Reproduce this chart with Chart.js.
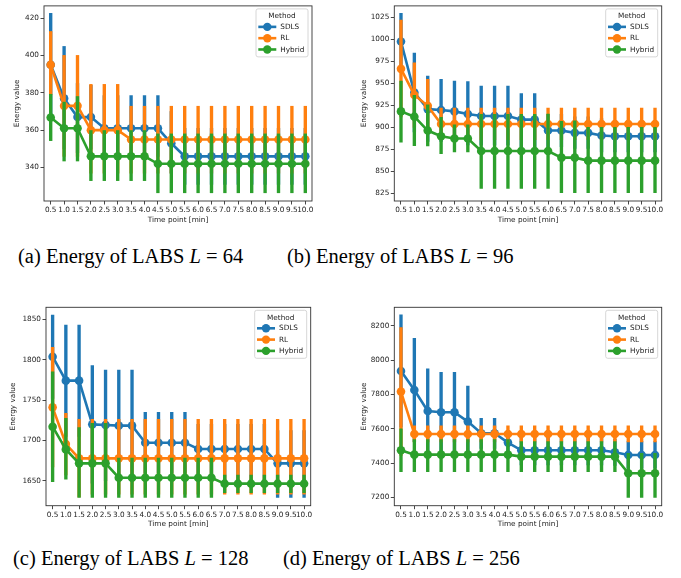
<!DOCTYPE html>
<html lang="en">
<head>
<meta charset="UTF-8">
<title>Energy of LABS</title>
<script src="https://cdn.jsdelivr.net/npm/chart.js@4"></script>
<style>
    body { margin: 0; background: #fff; }
    #page { position: relative; width: 681px; height: 578px; overflow: hidden; background: #fff; }
    .panel { position: absolute; }
    .caption {
        position: absolute;
        font-family: "Liberation Serif", serif;
        font-size: 20.5px;
        line-height: 1;
        white-space: nowrap;
        color: #000;
    }
</style>
</head>
<body>
<div id="page">
    <canvas id="chartA" class="panel"></canvas>
    <canvas id="chartB" class="panel"></canvas>
    <canvas id="chartC" class="panel"></canvas>
    <canvas id="chartD" class="panel"></canvas>
    <div class="caption" style="left:18px; top:246px;">(a) Energy of LABS <i>L</i> = 64</div>
    <div class="caption" style="left:287px; top:246px;">(b) Energy of LABS <i>L</i> = 96</div>
    <div class="caption" style="left:13px; top:548px;">(c) Energy of LABS <i>L</i> = 128</div>
    <div class="caption" style="left:283px; top:548px;">(d) Energy of LABS <i>L</i> = 256</div>
</div>
<script>
    // categories
    const timeLabels = ['0.5','1.0','1.5','2.0','2.5','3.0','3.5','4.0','4.5','5.0',
                        '5.5','6.0','6.5','7.0','7.5','8.0','8.5','9.0','9.5','10.0'];
    const methods = ['SDLS', 'RL', 'Hybrid'];
    const colors = ['#1f77b4', '#ff7f0e', '#2ca02c'];

    // (a) L = 64
    const aTicks = [340, 360, 380, 400, 420];
    const aSdlsMean = [395,377,367,367,361,361,361,361,361,353,346,346,346,346,346,346,346,346,346,346];
    const aSdlsLo   = [368,350,348,350,346,346,346,346,346,337,331,331,331,331,331,331,331,331,331,331];
    const aSdlsHi   = [422.5,404.8,385,384,378.5,378.5,378.5,378.5,378.5,370,361,361,361,361,361,361,361,361,361,361];
    const aRlMean = [395,373,373,360,360,360,355,355,355,355,355,355,355,355,355,355,355,355,355,355];
    const aRlLo   = [379,346,346,337,337,337,337,337,337,337,337,337,337,337,337,337,337,337,337,337];
    const aRlHi   = [412.8,400,400,384.5,384.5,384.5,372.8,372.8,372.8,372.8,372.8,372.8,372.8,372.8,372.8,372.8,372.8,372.8,372.8,372.8];
    const aHybMean = [366.8,361,361,346,346,346,346,346,342,342,342,342,342,342,342,342,342,342,342,342];
    const aHybLo   = [354.4,343.5,343.5,333,333,333,333,333,326.5,326.5,326.5,326.5,326.5,326.5,326.5,326.5,326.5,326.5,326.5,326.5];
    const aHybHi   = [379.2,375,378,359.8,359.8,359.8,359.8,359.8,358,358,358,358,358,358,358,358,358,358,358,358];

    // (b) L = 96
    const bTicks = [825, 850, 875, 900, 925, 950, 975, 1000, 1025];
    const bSdlsMean = [997.7,939.6,920.8,919.7,918.2,915.2,912.9,912.9,912.9,908.8,908.8,896.4,896.4,893.8,893.8,890.8,890,890,890,890];
    const bSdlsLo   = [966,895,884,884,884,880,880,880,880,878,878,878,878,876,876,872,872,872,872,872];
    const bSdlsHi   = [1029.7,984.6,958.3,954.6,952.7,952,947,947,947,938.4,938.4,915,915,912,912,910,908,908,908,908];
    const bRlMean = [966.6,936.9,924.5,903.9,903.9,903.9,903.9,903.9,903.9,903.9,903.9,903.9,903.9,903.9,903.9,903.9,903.9,903.9,903.9,903.9];
    const bRlLo   = [912,900,895,886,886,886,886,886,886,886,886,886,886,886,886,886,886,886,886,886];
    const bRlHi   = [1022,973.3,954.6,921.9,921.9,921.9,921.9,921.9,921.9,921.9,921.9,921.9,921.9,921.9,921.9,921.9,921.9,921.9,921.9,921.9];
    const bHybMean = [918.2,912.2,896.4,890,887.4,887.4,873.1,873.1,873.1,873.1,873.1,873.1,865.6,865.6,862.2,862.2,862.2,862.2,862.2,862.2];
    const bHybLo   = [883.3,879.1,878.8,870.1,872,872,830.7,830.7,830.7,830.7,830.7,830.7,825.8,825.8,825.8,825.8,825.8,825.8,825.8,825.8];
    const bHybHi   = [952.7,936.5,925.7,911.4,903,903,915,915,915,915,915,915.2,907,907.6,900,900,900,900,900,900];

    // (c) L = 128
    const cTicks = [1650, 1700, 1750, 1800, 1850];
    const cSdlsMean = [1803.7,1774,1774,1719.8,1719,1718.2,1718.2,1697.1,1697.1,1697.1,1697.1,1689.3,1689.3,1689.3,1689.3,1689.3,1689.3,1671.5,1671.5,1671.5];
    const cSdlsLo   = [1752,1705,1705,1647,1650,1650,1650,1660,1660,1660,1660,1650,1650,1650,1650,1650,1650,1629.3,1629.3,1629.3];
    const cSdlsHi   = [1855.4,1843,1843,1792.6,1787.2,1787.2,1787.2,1734.7,1734.7,1734.7,1734.7,1720,1720,1720,1720,1720,1720,1712,1712,1712];
    const cRlMean = [1740.9,1695.4,1677.7,1677.7,1677.7,1677.7,1677.7,1677.7,1677.7,1677.7,1677.7,1677.7,1677.7,1677.7,1677.7,1677.7,1677.7,1677.7,1677.7,1677.7];
    const cRlLo   = [1667,1657,1630,1633.4,1633.4,1633.4,1633.4,1633.4,1633.4,1633.4,1633.4,1633.4,1633.4,1633.4,1633.4,1633.4,1633.4,1633.4,1633.4,1633.4];
    const cRlHi   = [1815.3,1733.5,1726,1726,1726,1726,1726,1726,1726,1726,1726,1726,1726,1726,1726,1726,1726,1726,1726,1726];
    const cHybMean = [1716.9,1688.8,1671.5,1671.5,1671.5,1653.7,1653.7,1653.7,1653.7,1653.7,1653.7,1653.7,1653.7,1646.3,1646.3,1646.3,1646.3,1646.3,1646.3,1646.3];
    const cHybLo   = [1648.8,1652,1629.3,1629.3,1629.3,1629.3,1629.3,1629.3,1629.3,1629.3,1629.3,1629.3,1629.3,1635,1635,1635,1635,1635,1635,1635];
    const cHybHi   = [1785,1727.3,1715.7,1721,1721,1678,1678,1678,1678,1678,1678,1678,1678,1657,1657,1657,1657,1657,1657,1657];

    // (d) L = 256
    const dTicks = [7200, 7400, 7600, 7800, 8000, 8200];
    const dSdlsMean = [7937.7,7826.8,7704.3,7696.5,7696.5,7642,7574,7574,7519.5,7474.7,7474.7,7474.7,7474.7,7474.7,7474.7,7474.7,7463,7447.5,7447.5,7447.5];
    const dSdlsLo   = [7610,7525,7460,7460,7460,7434,7486,7486,7460,7390,7390,7390,7390,7390,7390,7390,7386,7370,7370,7370];
    const dSdlsHi   = [8264.6,8128.4,7949.4,7930,7930,7850,7661.5,7661.5,7580,7560,7560,7560,7560,7560,7560,7560,7540,7525,7525,7525];
    const dRlMean = [7817.1,7570,7570,7570,7570,7570,7570,7570,7570,7570,7570,7570,7570,7570,7570,7570,7570,7570,7570,7570];
    const dRlLo   = [7445,7523,7523,7523,7523,7523,7523,7523,7523,7523,7523,7523,7523,7523,7523,7523,7523,7523,7523,7523];
    const dRlHi   = [8190.7,7616.7,7616.7,7616.7,7616.7,7616.7,7616.7,7616.7,7616.7,7616.7,7616.7,7616.7,7616.7,7616.7,7616.7,7616.7,7616.7,7616.7,7616.7,7616.7];
    const dHybMean = [7474.7,7449.4,7449.4,7449.4,7449.4,7449.4,7449.4,7449.4,7449.4,7437.8,7437.8,7437.8,7437.8,7437.8,7437.8,7437.8,7437.8,7340.5,7340.5,7340.5];
    const dHybLo   = [7350,7350,7350,7350,7350,7350,7350,7350,7350,7350,7350,7350,7350,7350,7350,7350,7350,7200,7200,7200];
    const dHybHi   = [7600,7537,7537,7537,7537,7537,7537,7537,7537,7525,7525,7525,7525,7525,7525,7525,7525,7457,7457,7457];

    const FONT = '"DejaVu Sans", sans-serif';
    const FONT_SIZE = 7.3;
    const TEXT = '#222';

    // box around the plot area, like matplotlib spines
    const framePlugin = {
        id: 'frame',
        afterDraw(chart) {
            const {ctx, chartArea: a} = chart;
            ctx.save();
            ctx.strokeStyle = '#333';
            ctx.lineWidth = 0.9;
            ctx.strokeRect(a.left, a.top, a.right - a.left, a.bottom - a.top);
            ctx.restore();
        }
    };

    // "Method" legend box in the upper right corner
    const legendPlugin = {
        id: 'methodLegend',
        afterDatasetsDraw(chart) {
            const {ctx, chartArea: a} = chart;
            const w = 52, h = 48;
            const x = a.right - w - 4, y = a.top + 3;
            ctx.save();
            ctx.fillStyle = 'rgba(255,255,255,0.8)';
            ctx.strokeStyle = '#cccccc';
            ctx.lineWidth = 0.8;
            ctx.beginPath();
            ctx.roundRect(x, y, w, h, 2);
            ctx.fill();
            ctx.stroke();
            ctx.font = FONT_SIZE + 'px ' + FONT;
            ctx.fillStyle = TEXT;
            ctx.textAlign = 'center';
            ctx.textBaseline = 'middle';
            ctx.fillText('Method', x + w / 2, y + 7.6);
            methods.forEach((m, i) => {
                const yy = y + 18 + i * 11.3;
                ctx.strokeStyle = colors[i];
                ctx.fillStyle = colors[i];
                ctx.lineWidth = 2.6;
                ctx.beginPath();
                ctx.moveTo(x + 2.3, yy);
                ctx.lineTo(x + 20.3, yy);
                ctx.stroke();
                ctx.beginPath();
                ctx.arc(x + 11.3, yy, 4.2, 0, Math.PI * 2);
                ctx.fill();
                ctx.fillStyle = TEXT;
                ctx.textAlign = 'left';
                ctx.fillText(m, x + 24.3, yy + 0.3);
            });
            ctx.restore();
        }
    };

    function buildDatasets(series) {
        const ds = [];
        series.forEach((s, i) => {
            const base = 2 * (series.length - i);
            ds.push({
                type: 'line',
                label: methods[i],
                data: s.mean,
                borderColor: colors[i],
                backgroundColor: colors[i],
                borderWidth: 2.6,
                pointRadius: 4.3,
                pointHoverRadius: 4.3,
                pointBorderWidth: 0,
                tension: 0,
                order: base
            });
            ds.push({
                type: 'bar',
                label: methods[i] + ' CI',
                data: s.lo.map((v, k) => [v, s.hi[k]]),
                backgroundColor: colors[i],
                borderWidth: 0,
                barThickness: 2.7,
                grouped: false,
                order: base - 1
            });
        });
        return ds;
    }

    function makeChart(id, panel, series, yTicks, yMin, yMax) {
        const canvas = document.getElementById(id);
        canvas.style.left = panel.left + 'px';
        canvas.style.top = panel.top + 'px';
        canvas.width = panel.width;
        canvas.height = panel.height;
        const pl = panel.plot[0] - panel.left;
        const pt = panel.plot[1] - panel.top;
        const pr = panel.plot[2] - panel.left;
        const pb = panel.plot[3] - panel.top;
        const half = FONT_SIZE * 1.2 / 2;

        new Chart(canvas.getContext('2d'), {
            type: 'line',
            data: { labels: timeLabels, datasets: buildDatasets(series) },
            options: {
                responsive: false,
                animation: false,
                devicePixelRatio: 1,
                layout: { padding: { left: 0, top: pt, right: panel.width - pr, bottom: 0 } },
                plugins: { legend: { display: false }, tooltip: { enabled: false } },
                scales: {
                    x: {
                        type: 'category',
                        offset: true,
                        grid: { display: true, drawOnChartArea: false, offset: false, tickLength: 3.5, color: '#333', tickWidth: 0.9 },
                        border: { display: false },
                        ticks: { autoSkip: false, maxRotation: 0, minRotation: 0, padding: 1.5, color: TEXT, font: { family: FONT, size: FONT_SIZE } },
                        title: { display: true, text: 'Time point [min]', color: TEXT, font: { family: FONT, size: FONT_SIZE },
                                 padding: { top: 0, bottom: panel.height - (panel.xTitleY - panel.top) - half } },
                        afterFit: axis => { axis.height = panel.height - pb; }
                    },
                    y: {
                        type: 'linear',
                        min: yMin,
                        max: yMax,
                        grid: { display: true, drawOnChartArea: false, tickLength: 3.5, color: '#333', tickWidth: 0.9 },
                        border: { display: false },
                        ticks: { padding: 1.5, color: TEXT, font: { family: FONT, size: FONT_SIZE },
                                 callback: v => String(v) },
                        afterBuildTicks: axis => { axis.ticks = yTicks.map(v => ({ value: v })); },
                        title: { display: true, text: 'Energy value', color: TEXT, font: { family: FONT, size: FONT_SIZE },
                                 padding: { top: (panel.yTitleX - panel.left) - half, bottom: 0 } },
                        afterFit: axis => { axis.width = pl; }
                    }
                }
            },
            plugins: [framePlugin, legendPlugin]
        });
    }

    makeChart('chartA',
        { left: 0, top: 0, width: 340, height: 232, plot: [44, 4, 312, 201], yTitleX: 17, xTitleY: 220 },
        [{ mean: aSdlsMean, lo: aSdlsLo, hi: aSdlsHi },
         { mean: aRlMean, lo: aRlLo, hi: aRlHi },
         { mean: aHybMean, lo: aHybLo, hi: aHybHi }],
        aTicks, 322.1, 426.5);

    makeChart('chartB',
        { left: 340, top: 0, width: 341, height: 232, plot: [394.3, 4, 661.7, 201], yTitleX: 364, xTitleY: 220 },
        [{ mean: bSdlsMean, lo: bSdlsLo, hi: bSdlsHi },
         { mean: bRlMean, lo: bRlLo, hi: bRlHi },
         { mean: bHybMean, lo: bHybLo, hi: bHybHi }],
        bTicks, 816.3, 1038.2);

    makeChart('chartC',
        { left: 0, top: 290, width: 340, height: 240, plot: [46, 307.3, 310.7, 505.7], yTitleX: 13.3, xTitleY: 524.3 },
        [{ mean: cSdlsMean, lo: cSdlsLo, hi: cSdlsHi },
         { mean: cRlMean, lo: cRlLo, hi: cRlHi },
         { mean: cHybMean, lo: cHybLo, hi: cHybHi }],
        cTicks, 1619, 1864.9);

    makeChart('chartD',
        { left: 340, top: 290, width: 341, height: 240, plot: [394.3, 307.3, 661.7, 505.7], yTitleX: 364, xTitleY: 524.3 },
        [{ mean: dSdlsMean, lo: dSdlsLo, hi: dSdlsHi },
         { mean: dRlMean, lo: dRlLo, hi: dRlHi },
         { mean: dHybMean, lo: dHybLo, hi: dHybHi }],
        dTicks, 7151.4, 8309);
</script>
</body>
</html>
